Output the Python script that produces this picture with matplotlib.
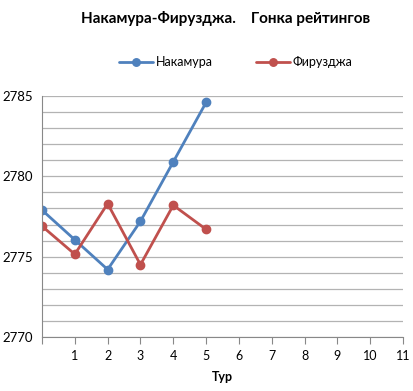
import matplotlib
matplotlib.use("Agg")
import matplotlib.pyplot as plt
from matplotlib.ticker import MultipleLocator, FixedLocator

plt.rcParams['font.family'] = ['Lato', 'DejaVu Sans']

rounds = [0, 1, 2, 3, 4, 5]
nakamura = [2777.9, 2776.05, 2774.2, 2777.2, 2780.9, 2784.6]
firouzja = [2776.9, 2775.15, 2778.3, 2774.5, 2778.2, 2776.7]
series_names = ["Накамура", "Фирузджа"]
title = "Накамура-Фирузджа.    Гонка рейтингов"
xlabel = "Тур"
xtick_labels = ["", "1", "2", "3", "4", "5", "6", "7", "8", "9", "10", "11"]
ytick_values = [2770, 2775, 2780, 2785]

blue = "#4F81BD"
red = "#C0504D"
grid = "#B3B3B3"

fig = plt.figure(figsize=(4.14, 3.91), dpi=100)
ax = fig.add_axes([42/414, 1-337/391, (403-42)/414, (337-96)/391])

ax.plot(rounds, nakamura, color=blue, lw=2.0, marker="o", ms=6, label=series_names[0], solid_capstyle="round")
ax.plot(rounds, firouzja, color=red, lw=2.0, marker="o", ms=6, label=series_names[1], solid_capstyle="round")

ax.set_xlim(0, 11)
ax.set_ylim(2770, 2785)
ax.xaxis.set_major_locator(FixedLocator(range(0, 12)))
ax.set_xticklabels(xtick_labels)
ax.yaxis.set_major_locator(FixedLocator(ytick_values))
ax.yaxis.set_minor_locator(MultipleLocator(1))
ax.grid(axis="y", which="both", color=grid, lw=0.9)
ax.set_axisbelow(True)

for s in ["top", "right"]:
    ax.spines[s].set_visible(False)
ax.spines["left"].set_color("#888888")
ax.spines["bottom"].set_color("#888888")
ax.tick_params(axis="x", direction="out", length=5, color="#888888", labelsize=9, pad=4)
ax.tick_params(axis="y", which="both", length=0, labelsize=9.5, pad=6.5)

ax.set_xlabel(xlabel, fontsize=9, fontweight="bold")
ax.xaxis.set_label_coords((222-42)/361, -0.14)

fig.text(226/414, 1-18/391, title, ha="center", va="center", fontsize=11, fontweight="bold")

leg = ax.legend(loc="center", bbox_to_anchor=(236/414, 1-62/391), bbox_transform=fig.transFigure,
                ncol=2, frameon=False, fontsize=9, handlelength=2.7, handletextpad=0.2,
                columnspacing=3.5, markerscale=0.9)

fig.savefig("out.png", dpi=100)
